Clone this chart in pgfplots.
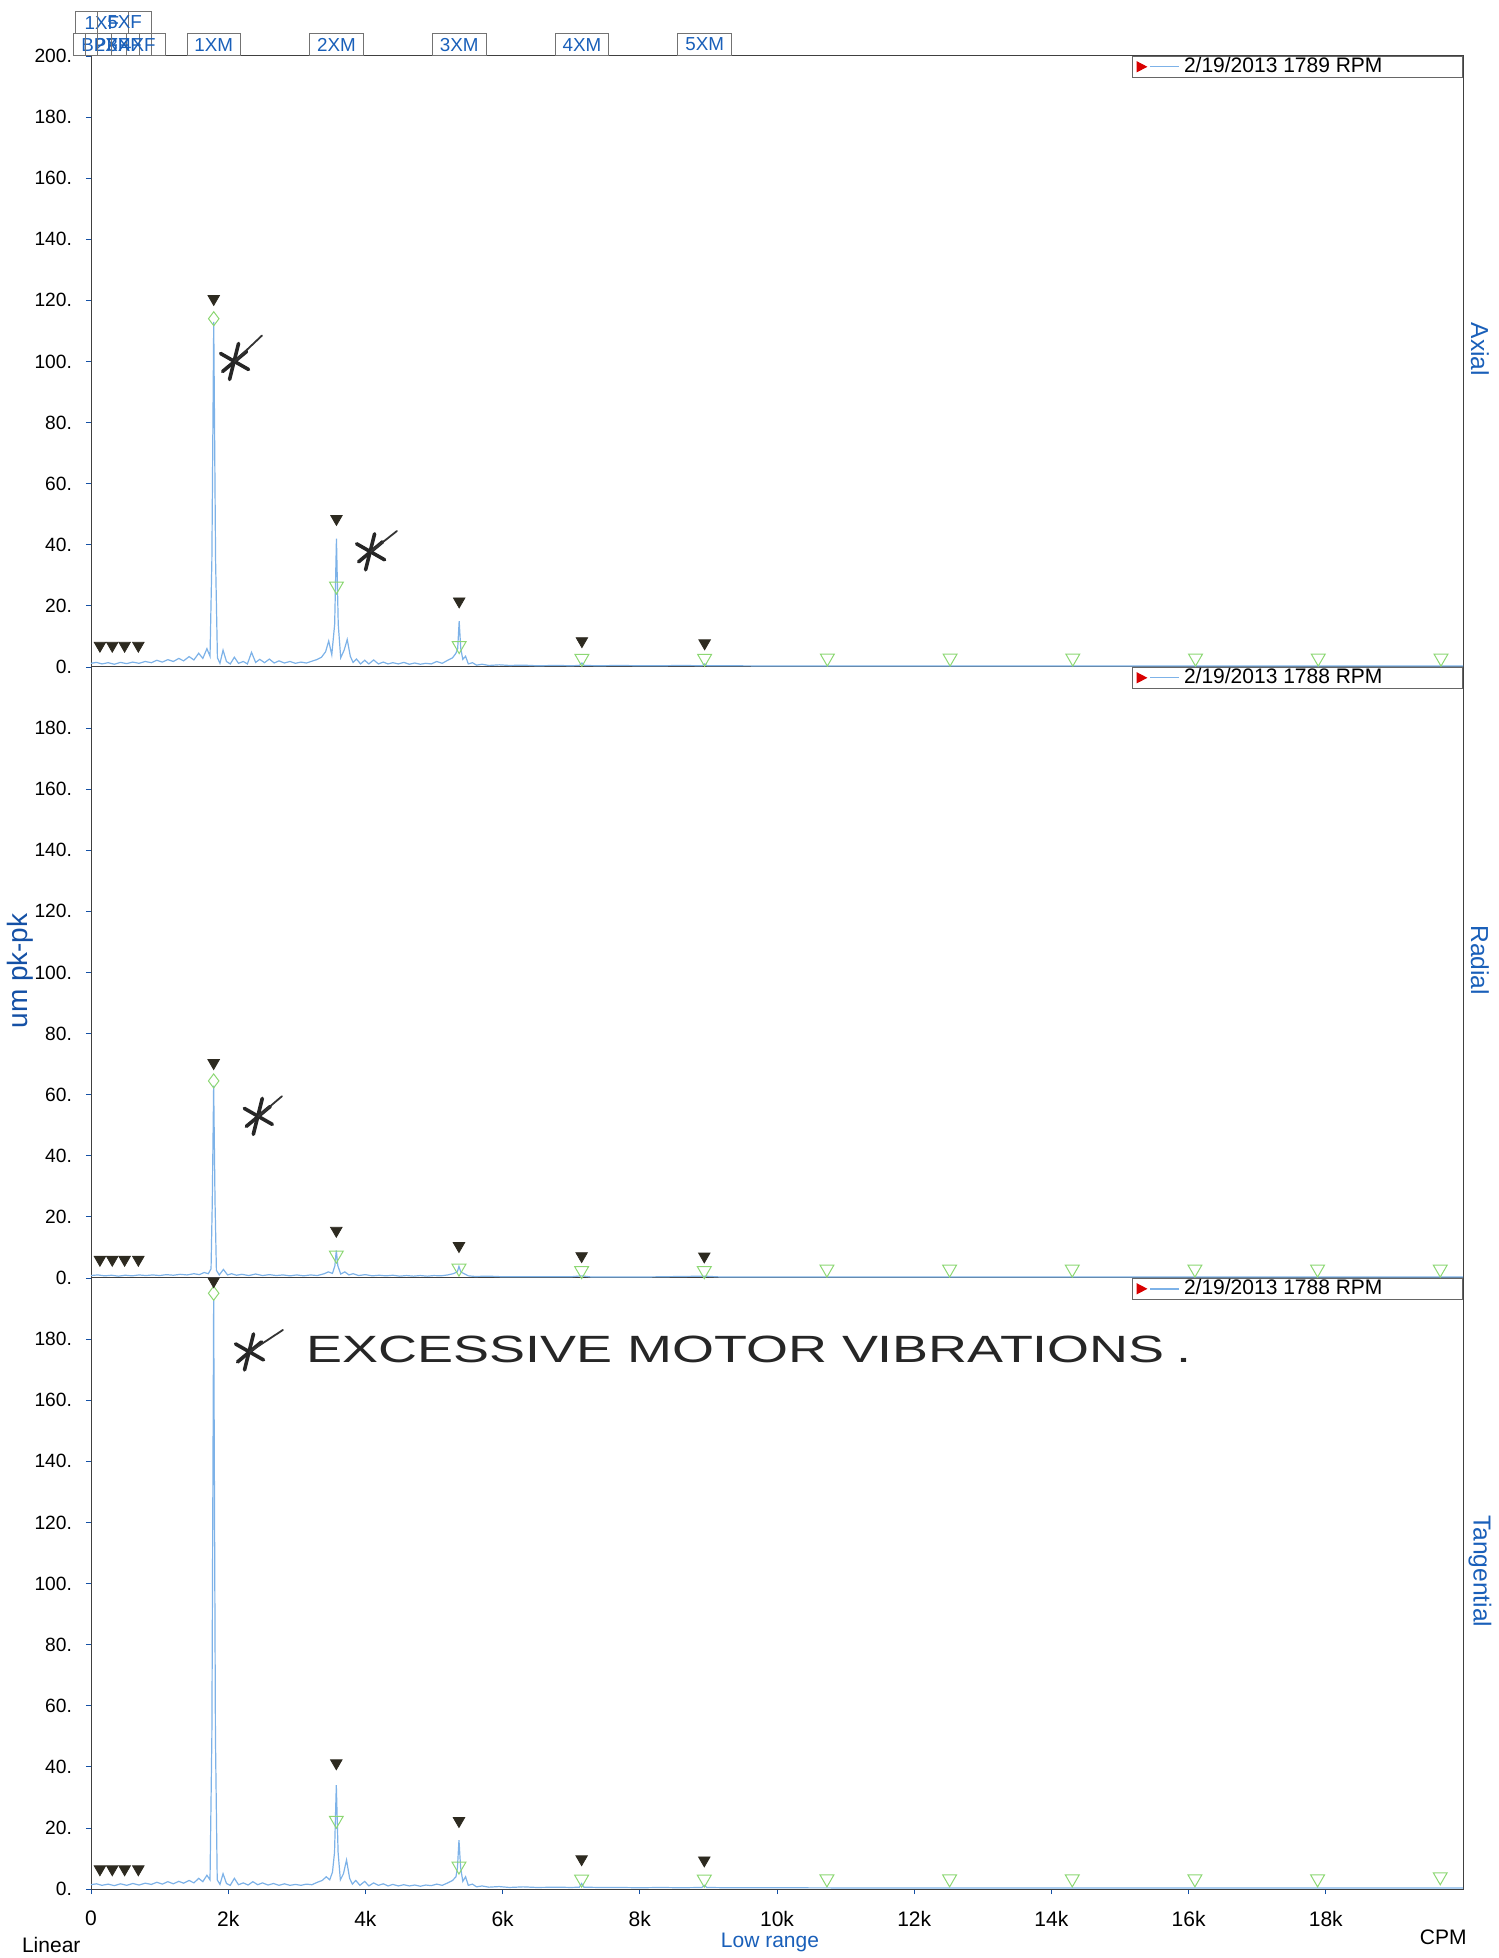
\documentclass[border=0pt]{standalone}
\usepackage{pgfplots}
\usepackage{pgfplotstable}
\pgfplotsset{compat=1.18}
\usepackage{fontspec}
\setmainfont{Liberation Sans}
\definecolor{spec}{RGB}{125,178,232}
\definecolor{mk}{RGB}{45,42,32}
\definecolor{grn}{RGB}{140,215,115}
\definecolor{lblue}{RGB}{25,95,185}
\definecolor{dblue}{RGB}{20,80,165}

\pgfplotstableread{
x y
0 1.2
80 1.5
160 1.0
250 1.4
340 0.9
430 1.5
520 1.1
610 1.6
700 1.2
790 1.8
880 1.4
960 2.2
1040 1.6
1120 2.4
1200 1.8
1280 2.8
1350 2.0
1430 3.4
1500 2.3
1570 4.5
1630 2.8
1690 6.0
1735 3.5
1762 35
1789 113
1816 35
1843 3.0
1880 1.2
1925 5.5
1975 1.8
2030 1.0
2090 3.2
2150 1.2
2220 1.8
2280 1.0
2340 4.8
2400 1.5
2460 2.5
2530 1.4
2600 2.6
2670 1.3
2740 2.0
2820 1.3
2900 1.8
2980 1.2
3060 1.6
3140 1.3
3220 1.9
3290 2.4
3360 3.2
3420 5.0
3465 8.5
3510 4.0
3552 14
3578 42
3604 14
3640 3.0
3690 5.5
3735 9.0
3780 3.5
3820 1.5
3870 2.6
3930 1.0
3990 2.2
4050 1.0
4120 2.3
4190 1.0
4260 1.6
4330 1.0
4400 1.4
4480 1.0
4560 1.5
4640 0.9
4720 1.3
4800 0.9
4880 1.2
4960 1.0
5040 1.8
5120 1.2
5200 2.2
5270 3.0
5320 4.5
5345 6
5367 15
5390 6
5420 2.5
5460 3.5
5500 1.0
5560 1.4
5620 0.6
5700 0.9
5800 0.5
5950 0.7
6100 0.5
6300 0.6
6500 0.4
6800 0.5
7000 0.4
7120 0.5
7156 1.3
7190 0.5
7400 0.4
7700 0.5
8000 0.4
8300 0.4
8600 0.5
8910 0.4
8945 1.0
8980 0.4
9300 0.4
10000 0.3
11000 0.3
12000 0.3
13000 0.3
14000 0.3
15000 0.3
16000 0.3
17000 0.3
18000 0.3
19000 0.3
20000 0.3
}\axialdata

\pgfplotstableread{
x y
0 0.8
100 1.0
200 0.7
300 0.9
400 0.6
500 0.9
600 0.7
700 1.0
800 0.8
900 1.0
1000 0.8
1100 1.1
1200 0.9
1300 1.2
1400 1.0
1500 1.4
1580 1.1
1650 1.8
1710 1.4
1750 3.0
1768 25
1788 63
1808 25
1828 2.5
1870 1.0
1930 2.8
1990 1.0
2050 1.4
2120 0.9
2200 1.2
2300 0.8
2400 1.3
2500 0.8
2600 1.1
2700 0.8
2800 1.0
2900 0.7
3000 1.0
3100 0.7
3200 1.0
3300 0.8
3400 1.4
3460 2.0
3520 1.5
3555 4
3576 9
3598 4
3640 1.3
3700 2.0
3760 1.0
3820 1.4
3900 0.8
4000 1.1
4100 0.7
4200 0.9
4300 0.7
4400 0.9
4500 0.6
4600 0.8
4700 0.6
4800 0.8
4900 0.6
5000 0.8
5100 0.7
5200 1.0
5280 1.4
5340 2.0
5364 3.8
5390 2.0
5440 1.4
5500 0.7
5600 0.5
5800 0.6
6000 0.4
6500 0.4
7000 0.4
7152 0.7
7300 0.3
8000 0.3
8940 0.6
9200 0.3
10000 0.3
12000 0.3
14000 0.3
16000 0.3
18000 0.3
20000 0.3
}\radialdata

\pgfplotstableread{
x y
0 1.4
80 1.7
160 1.2
250 1.6
340 1.1
430 1.7
520 1.2
610 1.8
700 1.3
790 1.9
880 1.5
960 2.2
1040 1.6
1120 2.4
1200 1.7
1280 2.5
1350 1.9
1430 2.8
1500 2.0
1570 3.5
1630 2.4
1690 4.5
1735 3.0
1762 50
1788 193
1814 50
1840 3
1880 1.5
1925 5.0
1975 1.8
2030 1.2
2090 3.5
2150 1.4
2220 2.0
2290 1.3
2360 2.4
2430 1.4
2500 2.0
2580 1.3
2660 1.8
2740 1.2
2820 1.7
2900 1.2
2980 1.5
3060 1.2
3140 1.6
3220 1.4
3300 2.2
3370 2.8
3430 4.0
3480 3.0
3520 5.5
3550 12
3576 34
3602 12
3635 3.0
3680 5.0
3725 9.5
3770 3.5
3810 1.6
3860 2.8
3920 1.2
3990 2.5
4050 1.0
4120 2.0
4190 1.2
4260 1.7
4330 1.0
4400 1.5
4480 1.0
4560 1.4
4640 1.0
4720 1.3
4800 0.9
4880 1.3
4960 1.1
5040 1.6
5120 1.2
5200 2.0
5270 2.8
5320 4.0
5342 7
5364 16
5388 7
5420 2.5
5460 4.0
5500 1.2
5560 1.6
5620 0.7
5700 1.0
5800 0.6
5950 0.8
6100 0.5
6300 0.7
6500 0.5
6800 0.6
7000 0.5
7120 0.6
7152 1.8
7185 0.6
7400 0.5
7700 0.5
8000 0.4
8300 0.5
8600 0.4
8905 0.5
8940 1.2
8975 0.5
9300 0.4
10000 0.4
12000 0.3
14000 0.3
16000 0.3
18000 0.3
20000 0.3
}\tangdata

\pgfplotsset{
 panel/.style={
  scale only axis, width=686pt, height=305.5pt,
  xmin=0, xmax=20000, ymin=0, ymax=200,
  scaled x ticks=false, scaled y ticks=false,
  axis line style={black!75, line width=0.5pt},
  tick align=outside, major tick length=2.5pt,
  tick style={dblue, line width=0.4pt},
  xtick pos=lower, ytick pos=left,
  yticklabel style={font=\fontsize{9.6}{11}\selectfont, xshift=-3.5pt},
  xticklabel style={font=\fontsize{10.5}{12}\selectfont, yshift=-5pt},
  clip=false,
  legend style={at={(rel axis cs:1,1)}, anchor=north east, draw=black!60,
    line width=0.5pt, inner xsep=2pt, inner ysep=0pt,
    font=\fontsize{10.5}{12}\selectfont, cells={anchor=west},
    nodes={inner ysep=0.6pt},
    /tikz/every even column/.append style={column sep=1pt}},
  legend image code/.code={
    \fill[red!85!black] (0pt,-2.3pt) -- (0pt,2.3pt) -- (4.4pt,0pt) -- cycle;
    \draw[spec, line width=0.7pt] (6.5pt,0pt) -- (21pt,0pt);
  },
 },
 specline/.style={color=spec, line width=0.6pt, mark=none},
 blk/.style={only marks, mark=triangle*, mark size=3.3pt,
   mark options={rotate=180, fill=mk, draw=mk}},
 grntri/.style={only marks, mark=triangle, mark size=4pt,
   mark options={rotate=180, draw=grn, line width=0.5pt}},
 grndia/.style={only marks, mark=diamond, mark size=3.5pt,
   mark options={draw=grn, line width=0.5pt}},
}
\tikzset{lbl/.style={draw=black!55, line width=0.4pt, text=lblue,
  font=\fontsize{9.4}{11}\selectfont, minimum width=26.8pt,
  minimum height=11pt, inner sep=0.5pt, anchor=south}}

\newcommand\hast[2]{%
 \begin{scope}[shift={(#1)}, line width=1.8pt, black!85, line cap=round]
  \draw (-2.5pt,-9pt) -- (2pt,9pt);
  \draw (-7pt,4pt) -- (7pt,-4pt);
  \draw (-6pt,-5pt) -- (6pt,5pt);
 \end{scope}
 \draw[line width=0.9pt, black!80, line cap=round] (#1) -- (#2);
}

\begin{document}
\begin{tikzpicture}
\useasboundingbox (-45.5pt,-34.5pt) rectangle (703.5pt,944.5pt);

% ---------------- bottom: Tangential
\begin{axis}[panel, at={(0pt,0pt)}, anchor=south west,
  ytick={0,20,40,60,80,100,120,140,160,180},
  yticklabels={0.,20.,40.,60.,80.,100.,120.,140.,160.,180.},
  xtick={0,2000,4000,6000,8000,10000,12000,14000,16000,18000},
  xticklabels={0,2k,4k,6k,8k,10k,12k,14k,16k,18k}]
\addplot[specline] table[x=x,y=y] {\tangdata};
\addlegendentry{2/19/2013 1788 RPM\hspace*{36pt}}
\addplot[grntri, forget plot] coordinates {(3576,22.5) (5364,7.5) (7152,3.2) (8940,3.2) (10728,3.3) (12516,3.3) (14304,3.3) (16092,3.3) (17880,3.3) (19668,4)};
\addplot[grndia, forget plot] coordinates {(1788,195)};
\addplot[blk, forget plot] coordinates {(130,6.5) (310,6.5) (490,6.5) (690,6.5) (1788,199) (3576,41.2) (5364,22.3) (7152,9.8) (8940,9.4)};
\node[xshift=8.5pt, rotate=-90, text=lblue, font=\fontsize{12.3}{14}\selectfont] at (rel axis cs:1,0.52) {Tangential};
\coordinate (a4) at (axis cs:2311,175.8);
\coordinate (a4e) at (axis cs:2798,183);
\node[anchor=west, inner sep=0pt, xscale=1.42, font=\fontsize{19}{21}\selectfont, text=black!85] at (axis cs:3130,176.6) {EXCESSIVE MOTOR VIBRATIONS\hspace{4pt}.};
\end{axis}

% ---------------- middle: Radial
\begin{axis}[panel, at={(0pt,305.5pt)}, anchor=south west,
  ytick={0,20,40,60,80,100,120,140,160,180},
  yticklabels={0.,20.,40.,60.,80.,100.,120.,140.,160.,180.},
  xtick=\empty]
\addplot[specline] table[x=x,y=y] {\radialdata};
\addlegendentry{2/19/2013 1788 RPM\hspace*{36pt}}
\addplot[grntri, forget plot] coordinates {(3576,7.5) (5364,3.2) (7152,2.4) (8940,2.4) (10728,2.9) (12516,2.9) (14304,2.9) (16092,2.9) (17880,2.9) (19668,2.9)};
\addplot[grndia, forget plot] coordinates {(1788,64.5)};
\addplot[blk, forget plot] coordinates {(130,6) (310,6) (490,6) (690,6) (1788,70.4) (3576,15.5) (5364,10.5) (7152,7.2) (8940,7.1)};
\node[xshift=8.5pt, rotate=-90, text=lblue, font=\fontsize{12.3}{14}\selectfont] at (rel axis cs:1,0.52) {Radial};
\coordinate (a3) at (axis cs:2439,52.9);
\coordinate (a3e) at (axis cs:2784,59.5);
\end{axis}

% ---------------- top: Axial
\begin{axis}[panel, at={(0pt,611pt)}, anchor=south west,
  ytick={0,20,40,60,80,100,120,140,160,180,200},
  yticklabels={0.,20.,40.,60.,80.,100.,120.,140.,160.,180.,200.},
  xtick=\empty]
\addplot[specline] table[x=x,y=y] {\axialdata};
\addlegendentry{2/19/2013 1789 RPM\hspace*{36pt}}
\addplot[grntri, forget plot] coordinates {(3578,26.5) (5367,7) (7156,2.8) (8945,2.8) (10734,2.9) (12523,2.9) (14312,2.9) (16101,2.9) (17890,2.9) (19679,2.9)};
\addplot[grndia, forget plot] coordinates {(1789,114)};
\addplot[blk, forget plot] coordinates {(130,7) (310,7) (490,7) (690,7) (1789,120.5) (3578,48.5) (5367,21.5) (7156,8.5) (8945,7.8)};
\node[xshift=8.5pt, rotate=-90, text=lblue, font=\fontsize{12.3}{14}\selectfont] at (rel axis cs:1,0.52) {Axial};
\coordinate (a1) at (axis cs:2093,100);
\coordinate (a1e) at (axis cs:2493,108.5);
\coordinate (a2) at (axis cs:4076,37.7);
\coordinate (a2e) at (axis cs:4459,44.5);
% marker labels
\node[lbl] at (axis cs:1789,200) {1XM};
\node[lbl] at (axis cs:3578,200) {2XM};
\node[lbl] at (axis cs:5367,200) {3XM};
\node[lbl] at (axis cs:7156,200) {4XM};
\node[lbl] at (axis cs:8945,200) {5XM};
\node[lbl] at (axis cs:127,200) {BPF};
\node[lbl] at (axis cs:309,200) {2XF};
\node[lbl] at (axis cs:491,200) {3XF};
\node[lbl] at (axis cs:691,200) {4XF};
\node[lbl, yshift=11pt] at (axis cs:160,200) {1XF};
\node[lbl, yshift=11pt] at (axis cs:490,200) {5XF};
\end{axis}

\hast{a1}{a1e}
\hast{a2}{a2e}
\hast{a3}{a3e}
\hast{a4}{a4e}

\node[rotate=90, text=dblue, font=\fontsize{14}{16}\selectfont] at (-35.5pt,459pt) {um pk-pk};
\node[anchor=west, font=\fontsize{10.5}{12}\selectfont] at (-38pt,-28pt) {Linear};
\node[text=lblue, font=\fontsize{10.5}{12}\selectfont] at (339.5pt,-26.5pt) {Low range};
\node[anchor=east, inner sep=0pt, font=\fontsize{10.5}{12}\selectfont] at (688pt,-24pt) {CPM};
\end{tikzpicture}
\end{document}
